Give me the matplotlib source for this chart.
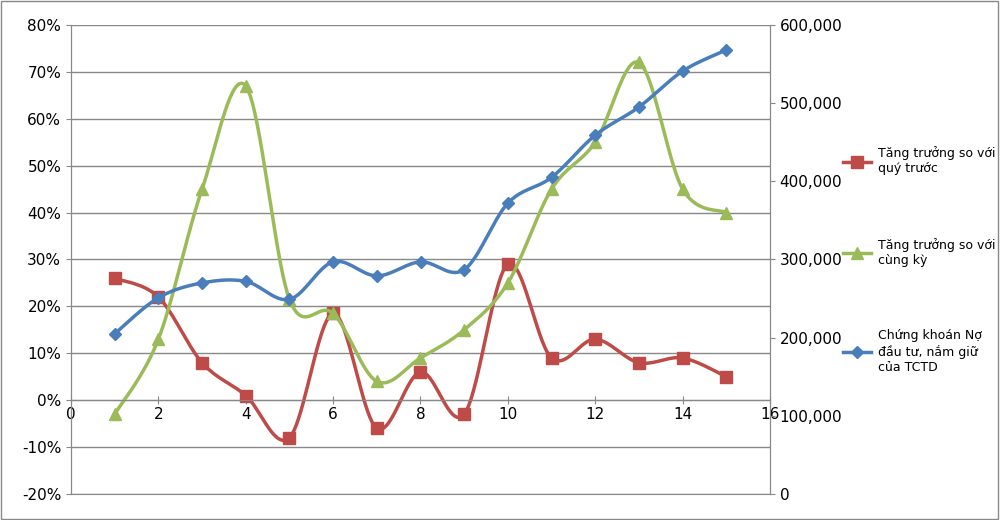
import matplotlib
matplotlib.use("Agg")
import matplotlib.pyplot as plt
import numpy as np
from matplotlib.ticker import FuncFormatter
from matplotlib.lines import Line2D

x = np.arange(1, 16)
qoq = [26, 22, 8, 1, -8, 18.5, -6, 6, -3, 29, 9, 13, 8, 9, 5]
yoy = [-3, 13, 45, 67, 21.5, 18.5, 4, 9, 15, 25, 45, 55, 72, 45, 40]
debt = [205000, 251000, 270000, 272000, 249000, 297000, 279000, 297000, 287000,
        372000, 405000, 459000, 495000, 541000, 568000]

labels = ["Tăng trưởng so với\nquý trước", "Tăng trưởng so với\ncùng kỳ",
          "Chứng khoán Nợ\nđầu tư, nắm giữ\ncủa TCTD"]


def smooth(xs, ys, n=20):
    # Excel-like smoothed line (Catmull-Rom as cubic Bezier)
    xs = np.asarray(xs, float); ys = np.asarray(ys, float)
    px = np.concatenate([[xs[0]], xs, [xs[-1]]])
    py = np.concatenate([[ys[0]], ys, [ys[-1]]])
    ox, oy = [], []
    t = np.linspace(0, 1, n)
    for i in range(1, len(px) - 2):
        p0 = np.array([px[i], py[i]]); p3 = np.array([px[i + 1], py[i + 1]])
        p1 = p0 + (p3 - np.array([px[i - 1], py[i - 1]])) / 6
        p2 = p3 - (np.array([px[i + 2], py[i + 2]]) - p0) / 6
        for tt in t:
            b = ((1 - tt) ** 3) * p0 + 3 * (1 - tt) ** 2 * tt * p1 + 3 * (1 - tt) * tt ** 2 * p2 + tt ** 3 * p3
            ox.append(b[0]); oy.append(b[1])
    return ox, oy


fig = plt.figure(figsize=(10, 5.2), dpi=100)
ax = fig.add_axes([0.071, 0.05, 0.699, 0.902])
ax2 = ax.twinx()

red, green, blue = "#BE4B48", "#9BBB59", "#4A7EBB"
sx, sy = smooth(x, qoq)
ax.plot(sx, sy, color=red, lw=2.5)
ax.plot(x, qoq, "s", color=red, ms=8, ls="none")
sx, sy = smooth(x, yoy)
ax.plot(sx, sy, color=green, lw=2.5)
ax.plot(x, yoy, "^", color=green, ms=8, ls="none")
sx, sy = smooth(x, debt)
ax2.plot(sx, sy, color=blue, lw=2.5)
ax2.plot(x, debt, "D", color=blue, ms=6, ls="none")

ax.set_xlim(0, 16)
ax.set_ylim(-20, 80)
ax.set_yticks(range(-20, 81, 10))
ax.yaxis.set_major_formatter(FuncFormatter(lambda v, p: f"{v:.0f}%"))
ax2.set_ylim(0, 600000)
ax2.set_yticks(range(0, 600001, 100000))
ax2.yaxis.set_major_formatter(FuncFormatter(lambda v, p: f"{v:,.0f}"))
ax.set_xticks(range(0, 17, 2))
ax.grid(axis="y", color="#888888", lw=1)
ax.set_axisbelow(True)

ax.spines["bottom"].set_position(("data", 0))
for a in (ax, ax2):
    a.spines["top"].set_visible(False)
    a.spines["left"].set_color("#888888")
    a.spines["right"].set_color("#888888")
    a.spines["bottom"].set_color("#888888")
    a.tick_params(labelsize=11, color="#888888")
ax.tick_params(axis="x", direction="inout", length=6, pad=2)

handles = [Line2D([], [], color=c, lw=2.5, marker=m, ms=ms) for c, m, ms in
           [(red, "s", 8), (green, "^", 8), (blue, "D", 6)]]
fig.legend(handles, labels, loc="center left", bbox_to_anchor=(0.843, 0.5),
           frameon=False, fontsize=9, labelspacing=5, handlelength=2.2,
           handletextpad=0.6, borderaxespad=0, borderpad=0)

fig.patches.append(plt.Rectangle((0.001, 0.002), 0.997, 0.996, transform=fig.transFigure,
                                 fill=False, ec="#888888", lw=1))
fig.savefig("out.png")
